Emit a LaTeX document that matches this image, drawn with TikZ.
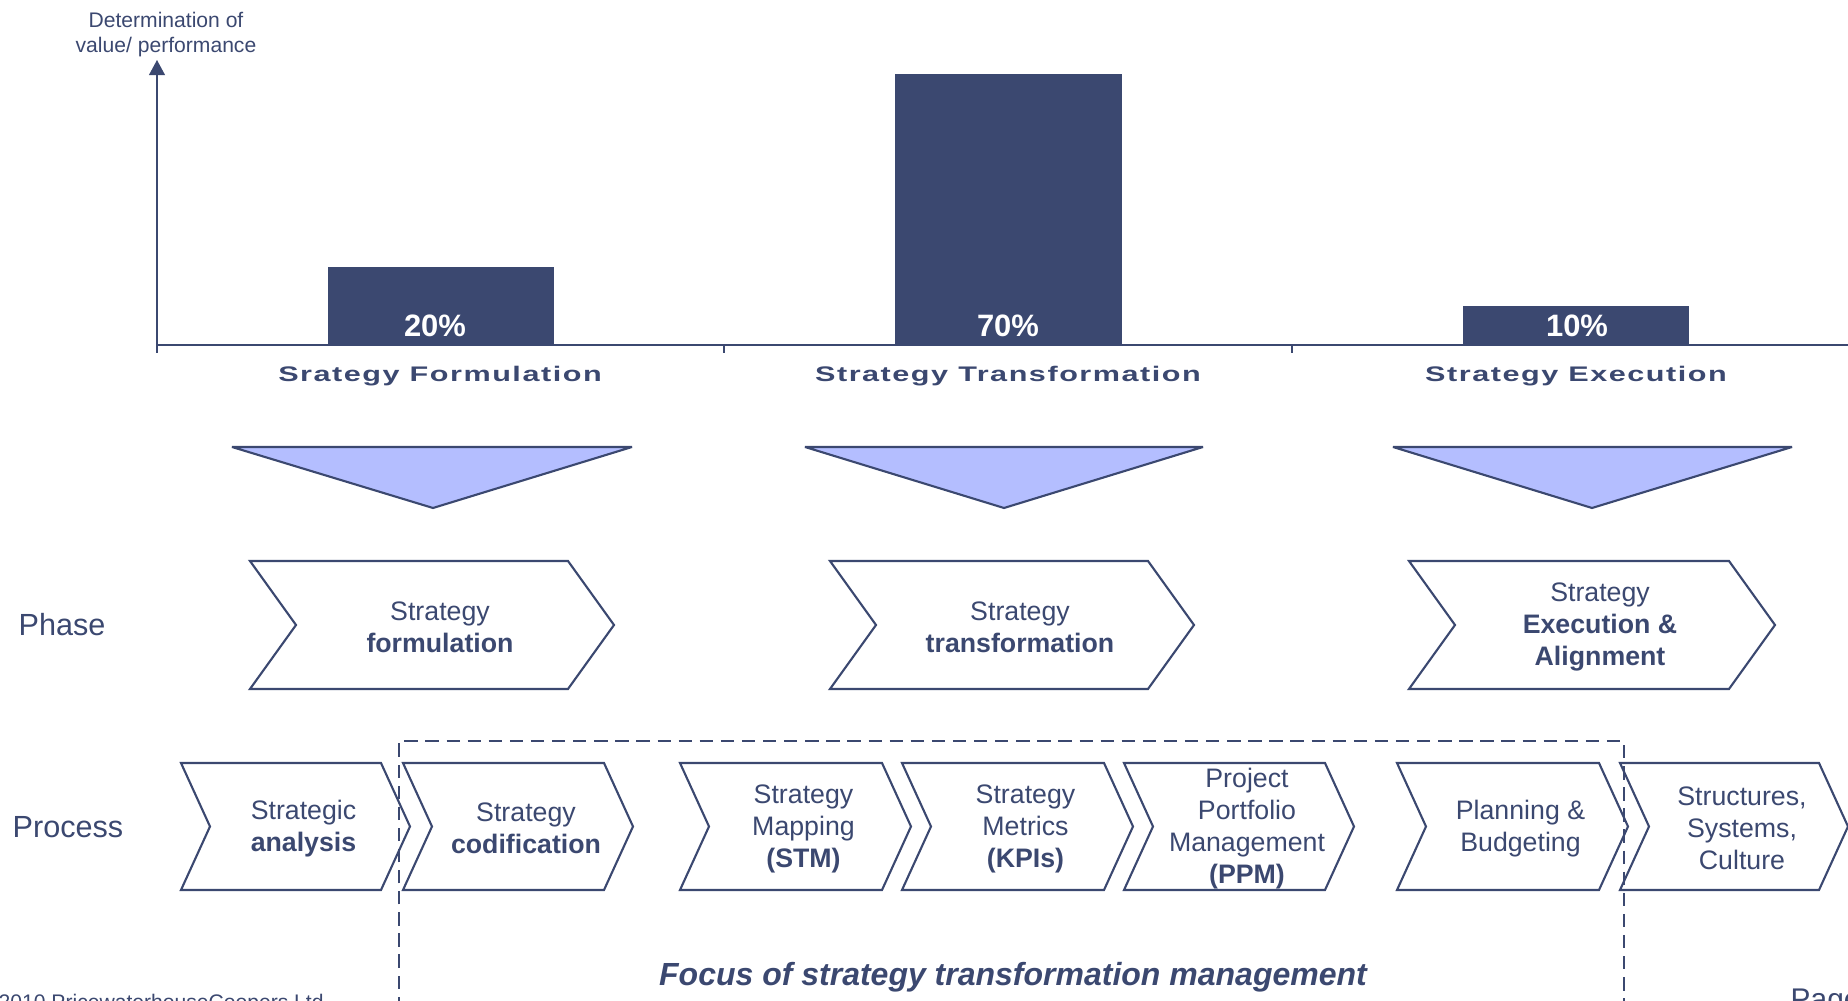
\documentclass[tikz,border=0pt]{standalone}
\usepackage{fontspec}
\setmainfont{Liberation Sans}
\usepackage{graphicx}
\usetikzlibrary{arrows.meta}

\definecolor{pwcnavy}{RGB}{59,72,112}
\definecolor{pwclilac}{RGB}{180,190,255}

% chevron box: name, left x, tip x, top y, bottom y, point depth, text
\newcommand{\chevbox}[7]{%
  \draw[chevline] (#2,#4) -- ({#3-#6},#4) -- (#3,{(#4+#5)/2})
    -- ({#3-#6},#5) -- (#2,#5) -- ({#2+#6},{(#4+#5)/2}) -- cycle;
  \node[chevtext] (#1) at ({(#2+#3)/2+8},{(#4+#5)/2+2}) {#7};
}

\begin{document}
\begin{tikzpicture}[x=0.01cm,y=-0.01cm,inner sep=0pt,text=pwcnavy]
  \tikzstyle{axisline}=[draw=pwcnavy,line width=0.45pt]
  \tikzstyle{chevline}=[draw=pwcnavy,line width=0.6pt,line join=miter]
  \tikzstyle{chevtext}=[align=center,font=\fontsize{7.6}{9.1}\selectfont]
  \tikzstyle{funnel}=[fill=pwclilac,draw=pwcnavy,line width=0.6pt,miter limit=2]
  \tikzstyle{pct}=[anchor=base,text=white,font=\fontsize{8.8}{10}\selectfont\bfseries]
  \tikzstyle{phasename}=[anchor=base,font=\fontsize{6}{7}\selectfont\bfseries\addfontfeature{LetterSpace=5}]
  \tikzstyle{rowlabel}=[font=\fontsize{8.7}{10}\selectfont]
  \tikzstyle{focusframe}=[draw=pwcnavy,line width=0.55pt,dash pattern=on 3.8pt off 2.2pt]

  \useasboundingbox (0,0) rectangle (1848,1001);
  \clip (0,0) rectangle (1848,1001);

  % value axis
  \node[align=center,font=\fontsize{6}{7.1}\selectfont] (ylabel) at (166,35)
    {Determination of\\value/ performance};
  \draw[axisline] (157,345) -- (1859,345);
  \foreach \x in {157,724,1292}
    \draw[axisline] (\x,345) -- (\x,353);
  \draw[axisline,-{Triangle[length=4.3pt,width=4.5pt]}] (157,353) -- (157,60);

  % bars
  \fill[pwcnavy] (328,267) rectangle (554,345);
  \fill[pwcnavy] (895,74) rectangle (1122,345);
  \fill[pwcnavy] (1463,306) rectangle (1689,345);
  \node[pct] (p20) at (435,337) {20\%};
  \node[pct] (p70) at (1008,337) {70\%};
  \node[pct] (p10) at (1577,337) {10\%};

  \node[phasename] (nform) at (440,382) {\scalebox{1.45}[1]{Srategy Formulation}};
  \node[phasename] (ntrans) at (1008,382) {\scalebox{1.45}[1]{Strategy Transformation}};
  \node[phasename] (nexec) at (1576,382) {\scalebox{1.45}[1]{Strategy Execution}};

  % funnels
  \foreach \l/\r/\c in {232/632/433, 805/1203/1004, 1393/1792/1592}
    \draw[funnel] (\l,447) -- (\r,447) -- (\c,508) -- cycle;

  % phase row
  \node[rowlabel] (phase) at (62,625) {Phase};
  \chevbox{ph1}{250}{614}{561}{689}{46}{Strategy\\\textbf{formulation}}
  \chevbox{ph2}{830}{1194}{561}{689}{46}{Strategy\\\textbf{transformation}}
  \chevbox{ph3}{1409}{1775}{561}{689}{46}{Strategy\\\textbf{Execution \&}\\\textbf{Alignment}}

  % process row
  \node[rowlabel] (process) at (68,827) {Process};
  \chevbox{pr1}{181}{410}{763}{890}{29}{Strategic\\\textbf{analysis}}
  \chevbox{pr2}{403}{633}{763}{890}{29}{Strategy\\\textbf{codification}}
  \chevbox{pr3}{680}{911}{763}{890}{29}{Strategy\\Mapping\\\textbf{(STM)}}
  \chevbox{pr4}{902}{1133}{763}{890}{29}{Strategy\\Metrics\\\textbf{(KPIs)}}
  \chevbox{pr5}{1124}{1354}{763}{890}{29}{Project\\Portfolio\\Management\\\textbf{(PPM)}}
  \chevbox{pr6}{1397}{1628}{763}{890}{29}{Planning \&\\Budgeting}
  \chevbox{pr7}{1620}{1848}{763}{890}{29}{Structures,\\Systems,\\Culture}

  % focus frame
  \draw[focusframe] (399,1010) |- (1624,741) -- (1624,1010);
  \node[anchor=base,font=\fontsize{9.1}{11}\selectfont\bfseries\itshape] (focus)
    at (1013,986) {Focus of strategy transformation management};

  % footer
  \node[anchor=base west,font=\fontsize{6}{7}\selectfont] (copy) at (-2,1010)
    {2010 PricewaterhouseCoopers Ltd};
  \node[anchor=base west,font=\fontsize{8.5}{10}\selectfont] (page) at (1790,1010) {Page};
\end{tikzpicture}
\end{document}
